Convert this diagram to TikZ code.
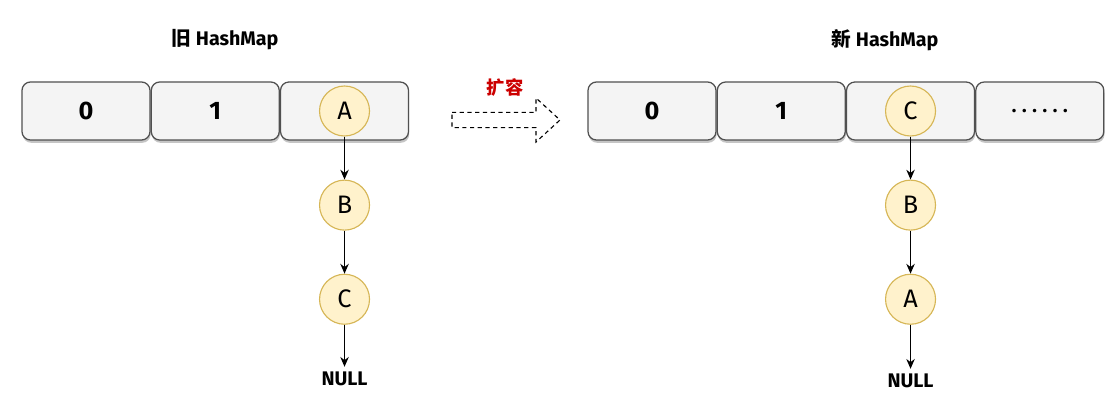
\documentclass[tikz,border=0pt]{standalone}
\usepackage{fontspec}
\setmainfont{Fira Sans}
\newfontfamily\cjk{Noto Sans CJK SC}
\usetikzlibrary{arrows.meta}
\usetikzlibrary{positioning}
\usetikzlibrary{shadows}

\definecolor{slotfill}{HTML}{F4F4F4}
\definecolor{slotdraw}{HTML}{505050}
\definecolor{nodefill}{HTML}{FFF2CC}
\definecolor{nodedraw}{HTML}{D6B656}
\definecolor{growred}{HTML}{CC0000}

\tikzset{
  slot/.style={rectangle, rounded corners=6pt, draw=slotdraw, line width=0.9pt, fill=slotfill,
    minimum width=3.2cm, minimum height=1.45cm, inner sep=0pt,
    drop shadow={shadow xshift=0.5pt, shadow yshift=-2pt, fill=black!45},
    font=\bfseries\fontsize{18}{18}\selectfont},
  entry/.style={circle, draw=nodedraw, line width=0.8pt, fill=nodefill, minimum size=1.25cm,
    inner sep=0pt, font=\fontsize{18}{18}\selectfont},
  title/.style={font=\bfseries\fontsize{14}{14}\selectfont},
  link/.style={-{Stealth[length=7pt,width=6pt]}, line width=0.9pt}
}

\begin{document}
\begin{tikzpicture}
        \useasboundingbox (0,0) rectangle (28,-10.425);

        \begin{scope}
            \node [title] (oldtitle) at (5.625,-1.0) {{\cjk 旧} HashMap};
            \node [slot] (o0) at (2.15,-2.775) {0};
            \node [slot] (o1) [right = 0 of o0] {1};
            \node [slot] (o2) [right = 0 of o1] {};
            \node [entry] (oa) at (o2) {A};
            \node [entry] (ob) [below = 1.075 of oa] {B};
            \node [entry] (oc) [below = 1.075 of ob] {C};
            \node [title] (onull) [below = 1.05 of oc] {NULL};
        \end{scope}

        \begin{scope}
            \node [title] (newtitle) at (22.125,-1.0) {{\cjk 新} HashMap};
            \node [slot] (n0) at (16.3,-2.775) {0};
            \node [slot] (n1) [right = 0 of n0] {1};
            \node [slot] (n2) [right = 0 of n1] {};
            \node [slot] (n3) [right = 0 of n2] {\textmd{.\,.\,.\,.\,.\,.}};
            \node [entry] (nc) at (n2) {C};
            \node [entry] (nb) [below = 1.075 of nc] {B};
            \node [entry] (na) [below = 1.075 of nb] {A};
            \node [title] (nnull) [below = 1.1 of na] {NULL};
        \end{scope}

        % resize arrow
        \coordinate (grow) at (11.3,-3.0);
        \draw [line width=0.8pt, dash pattern=on 3pt off 2.5pt, fill=white]
          (grow) ++(0,0.19) -- ++(2.1,0) -- ++(0,0.36) -- ++(0.6,-0.55)
          -- ++(-0.6,-0.55) -- ++(0,0.36) -- ++(-2.1,0) -- cycle;
        \node [font=\cjk\bfseries\fontsize{13}{13}\selectfont, text=growred] (grow label) at (12.625,-2.2) {扩容};

        \path[link]
          (oa) edge (ob)
          (ob) edge (oc)
          (oc) edge (onull)
          (nc) edge (nb)
          (nb) edge (na)
          (na) edge (nnull)
          ;
\end{tikzpicture}
\end{document}
